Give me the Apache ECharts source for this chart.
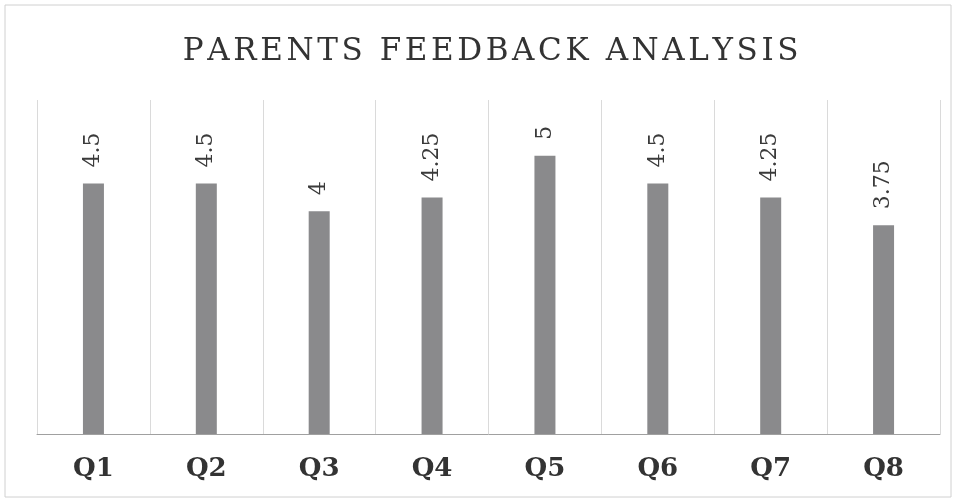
<!DOCTYPE html>
<html>
<head>
<meta charset="utf-8">
<script src="https://cdn.jsdelivr.net/npm/echarts@6/dist/echarts.min.js"></script>
<style>
  html, body { margin: 0; padding: 0; background: #fff; }
  #chart { width: 956px; height: 502px; }
</style>
</head>
<body>
<div id="chart"></div>
<script>
const titleText = 'PARENTS FEEDBACK ANALYSIS';
const questions = ['Q1', 'Q2', 'Q3', 'Q4', 'Q5', 'Q6', 'Q7', 'Q8'];
const scores = [4.5, 4.5, 4, 4.25, 5, 4.5, 4.25, 3.75];

const chart = echarts.init(document.getElementById('chart'));

// spread the title letters apart (each letter is one rich token with side padding)
const spacedTitle = titleText.split('').map(c => '{l|' + c + '}').join('');

const option = {
  backgroundColor: '#fff',
  title: {
    text: spacedTitle,
    left: 176,
    top: 31,
    textStyle: {
      fontFamily: 'DejaVu Serif',
      fontSize: 31,
      fontWeight: 'normal',
      color: '#333',
      rich: {
        l: {
          fontFamily: 'DejaVu Serif',
          fontSize: 31,
          fontWeight: 'normal',
          color: '#333',
          padding: [0, 1.8]
        }
      }
    }
  },
  graphic: [{
    type: 'rect',
    shape: { x: 5, y: 5, width: 946, height: 492 },
    style: { fill: 'none', stroke: '#d0d0d0', lineWidth: 1 },
    silent: true
  }],
  grid: {
    left: 37,
    right: 16,
    top: 100,
    bottom: 68
  },
  xAxis: {
    type: 'category',
    data: questions,
    axisLine: { lineStyle: { color: '#a0a0a0', width: 1 } },
    axisTick: { show: false },
    splitLine: { show: true, lineStyle: { color: '#dadada', width: 1 } },
    axisLabel: {
      margin: 22,
      fontFamily: 'DejaVu Serif',
      fontSize: 26,
      fontWeight: 'bold',
      color: '#333'
    }
  },
  yAxis: {
    type: 'value',
    min: 0,
    max: 6,
    show: false,
    splitLine: { show: false }
  },
  series: [{
    type: 'bar',
    data: scores,
    barWidth: 21,
    itemStyle: { color: '#8a8a8c' },
    label: {
      show: true,
      position: 'top',
      rotate: 90,
      align: 'left',
      verticalAlign: 'middle',
      distance: 16,
      fontFamily: 'DejaVu Serif',
      fontSize: 22,
      color: '#3a3a3a'
    }
  }]
};

chart.setOption(option);
</script>
</body>
</html>
